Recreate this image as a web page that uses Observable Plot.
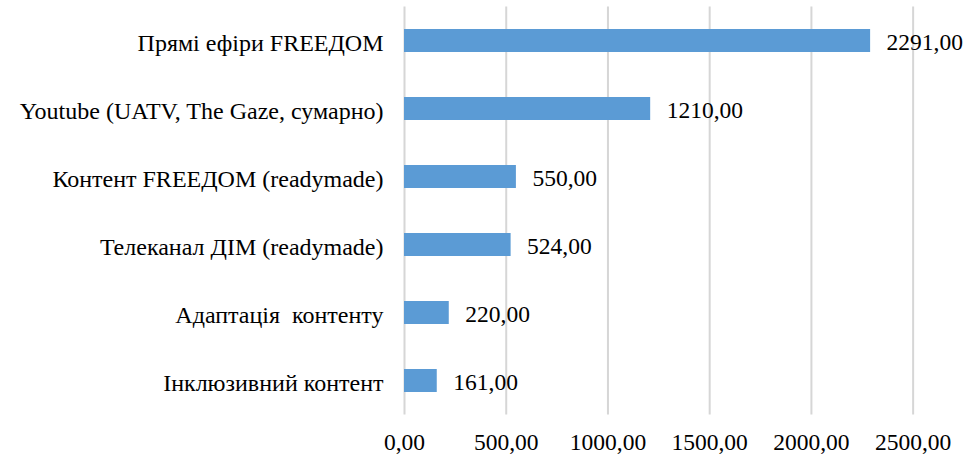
<!DOCTYPE html>
<html><head><meta charset="utf-8">
<script src="https://cdn.jsdelivr.net/npm/d3@7"></script>
<script src="https://cdn.jsdelivr.net/npm/@observablehq/plot@0.6"></script>
<style>
body{margin:0;background:#fff;}
svg, svg text{font-family:"Liberation Serif","Times New Roman",serif !important;}
</style></head>
<body><div id="chart"></div>
<script>
const categories = ["Прямі ефіри FREEДОМ","Youtube (UATV, The Gaze, сумарно)","Контент FREEДОМ (readymade)","Телеканал ДІМ (readymade)","Адаптація  контенту","Інклюзивний контент"];
const values = [2291,1210,550,524,220,161];
const xTicks = [0,500,1000,1500,2000,2500];
const data = categories.map((c,i)=>({c, v: values[i]}));
const fmt = v => v.toFixed(2).replace(".", ",");
const chart = Plot.plot({
  width: 965, height: 458,
  marginLeft: 404, marginRight: 1.5, marginTop: 6.5, marginBottom: 43.5,
  style: {fontFamily: "Liberation Serif", fontSize: "24px", color: "#000", background: "#fff"},
  x: {domain: [0, 2750], label: null},
  y: {domain: categories, paddingInner: 0.66, paddingOuter: 0.33, label: null},
  marks: [
    Plot.ruleX(xTicks, {stroke: "#d6d6d6", strokeWidth: 2}),
    Plot.barX(data, {x: "v", y: "c", fill: "#5B9BD5"}),
    Plot.text(data, {x: "v", y: "c", text: d => fmt(d.v), textAnchor: "start", dx: 16, dy: 1, fill: "#000", fontSize: 23.5, fontFamily: "Liberation Serif"}),
    Plot.axisX({ticks: xTicks, tickFormat: fmt, tickSize: 0, tickPadding: 18, fontSize: 23.5, label: null}),
    Plot.axisY({tickSize: 0, tickPadding: 21, fontSize: 24, dy: 2, label: null})
  ]
});
document.getElementById("chart").appendChild(chart);
</script></body></html>
